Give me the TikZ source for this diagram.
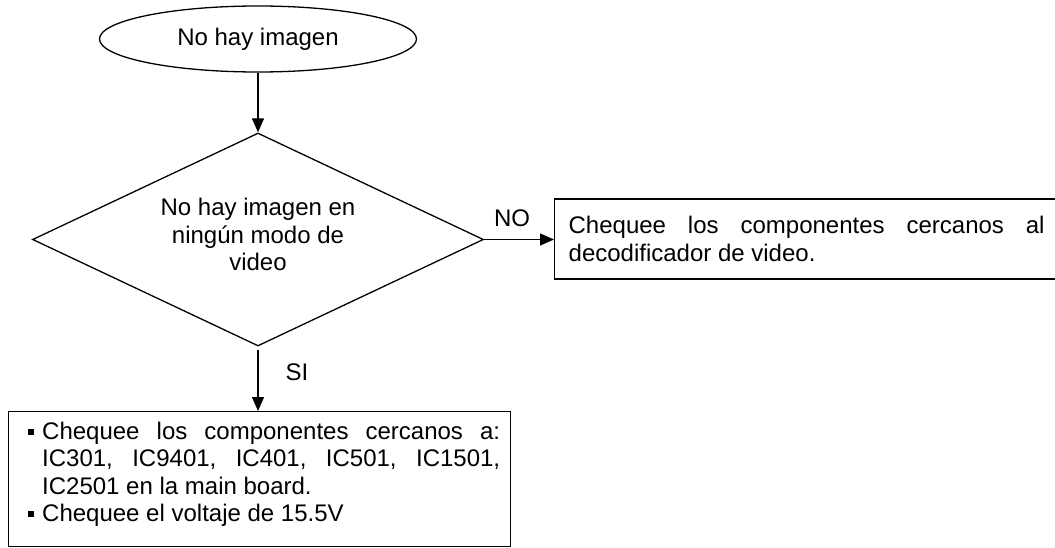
\documentclass[tikz,border=0pt]{standalone}
\usepackage{fontspec}
\setmainfont{Liberation Sans}
\usetikzlibrary{shapes.geometric,arrows.meta,calc}
\newcommand\sqbul{\leavevmode\llap{\rule[4.5pt]{6pt}{6pt}\hspace{8pt}}}
\begin{document}
\begin{tikzpicture}[x=1pt,y=1pt,
  every node/.style={font=\fontsize{24}{27.6}\selectfont},
  shapeline/.style={draw=black, line width=1.3pt},
  arr/.style={line width=1.3pt, -{Triangle[length=14pt,width=12pt]}},
  lbl/.style={inner sep=0pt}]
\useasboundingbox (0,0) rectangle (1055,-548);
\node[ellipse, shapeline, minimum width=317pt, minimum height=66pt, inner sep=0pt] (e) at (258,-39) {No hay imagen};
\node[diamond, shapeline, minimum width=451pt, minimum height=213pt, inner sep=0pt, aspect=2.12, align=center] (d) at (258,-239.5) {No hay imagen en\\ningún modo de\\video\rule[-10pt]{0pt}{10pt}};
\node[rectangle, shapeline, minimum height=80pt, text width=476pt, inner xsep=14pt, inner ysep=0pt, align=justify, anchor=west] (r) at (554,-239) {Chequee los componentes cercanos al\linebreak decodificador de video.};
\node[rectangle, shapeline, minimum width=502pt, minimum height=135pt, anchor=north west] (b) at (8,-411) {};
\node[anchor=north west, inner sep=0pt, text width=472pt, align=justify] (bt) at (28,-421.5) {\parindent=0pt\leftskip=14pt
\sqbul Chequee los componentes cercanos a:\linebreak IC301, IC9401, IC401, IC501, IC1501,\linebreak IC2501 en la main board.\par
\sqbul Chequee el voltaje de 15.5V\par};
\node[lbl] (no) at (512,-218) {NO};
\node[lbl] (si) at (297,-372) {SI};
\draw[arr] (e.south) -- (d.north);
\draw[arr] (d.east) -- (d.east -| r.west);
\draw[arr, shorten <=3pt] (d.south) -- (d.south |- b.north);
\end{tikzpicture}
\end{document}
